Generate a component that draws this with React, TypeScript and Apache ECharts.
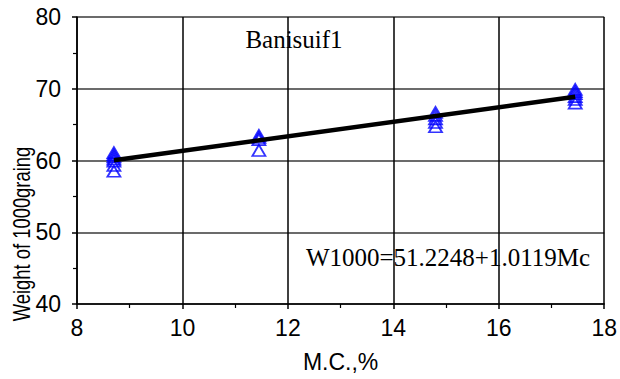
import React, { useEffect, useRef } from "react";
import * as echarts from "echarts";

// Moisture content (%) of each sample and the measured 1000-grain weight (g)
const moistureLevels = [8.7, 11.45, 14.8, 17.45];
const grainWeights: number[][] = [
  [61.1, 60.8, 60.5, 60.2, 59.9, 59.3, 58.5],
  [63.5, 63.2, 62.9, 61.4],
  [66.7, 66.3, 65.8, 65.3, 64.7],
  [69.9, 69.6, 69.3, 68.9, 68.5, 68.0],
];

// Fitted regression: W1000 = a + b * Mc
const intercept = 51.2248;
const slope = 1.0119;
const fitRange = [8.7, 17.45];

const xTicks = { min: 8, max: 18, interval: 2 };
const yTicks = { min: 40, max: 80, interval: 10 };

const varietyLabel = "Banisuif1";
const equationLabel = "W1000=51.2248+1.0119Mc";
const xAxisTitle = "M.C.,%";
const yAxisTitle = "Weight of 1000graing";

const SANS = "'Liberation Sans', Arial, sans-serif";
const SERIF = "'Liberation Serif', 'Times New Roman', serif";

export default function App() {
  const ref = useRef<HTMLDivElement>(null);

  useEffect(() => {
    if (!ref.current) return;
    const chart = echarts.init(ref.current, undefined, { renderer: "svg" });

    const points: number[][] = [];
    moistureLevels.forEach((mc, i) => {
      grainWeights[i].forEach((w) => points.push([mc, w]));
    });
    const fitLine = fitRange.map((mc) => [mc, intercept + slope * mc]);

    chart.setOption({
      animation: false,
      backgroundColor: "#fff",
      grid: { left: 77, right: 13, top: 17, bottom: 75 },
      xAxis: {
        type: "value",
        min: xTicks.min,
        max: xTicks.max,
        interval: xTicks.interval,
        name: xAxisTitle,
        nameLocation: "middle",
        nameGap: 46,
        nameTextStyle: { fontFamily: SANS, fontSize: 23, color: "#000" },
        axisLine: { lineStyle: { color: "#000", width: 1.5 } },
        axisTick: { show: true, inside: false, length: 5, lineStyle: { color: "#000", width: 1.5 } },
        minorTick: { show: true, splitNumber: 2, length: 4, lineStyle: { color: "#000", width: 1.2 } },
        splitLine: { show: true, lineStyle: { color: "#000", width: 1.5 } },
        axisLabel: { fontFamily: SANS, fontSize: 23, color: "#000", margin: 12 },
      },
      yAxis: {
        type: "value",
        min: yTicks.min,
        max: yTicks.max,
        interval: yTicks.interval,
        axisLine: { show: true, lineStyle: { color: "#000", width: 1.5 } },
        axisTick: { show: true, inside: false, length: 5, lineStyle: { color: "#000", width: 1.5 } },
        minorTick: { show: true, splitNumber: 2, length: 4, lineStyle: { color: "#000", width: 1.2 } },
        splitLine: { show: true, lineStyle: { color: "#3a3a3a", width: 1.5 } },
        axisLabel: { fontFamily: SANS, fontSize: 23, color: "#000", margin: 16 },
      },
      graphic: [
        {
          type: "text",
          x: 22,
          y: 234,
          rotation: Math.PI / 2,
          scaleX: 0.8,
          style: {
            text: yAxisTitle,
            font: `23px ${SANS}`,
            fill: "#000",
            align: "center",
            verticalAlign: "middle",
          },
        },
        {
          type: "group",
          z: 1,
          children: [
            { type: "rect", shape: { x: 236, y: 19, width: 122, height: 58 }, style: { fill: "#fff" } },
            {
              type: "text",
              x: 294,
              y: 39,
              style: {
                text: varietyLabel,
                font: `25px ${SERIF}`,
                fill: "#000",
                align: "center",
                verticalAlign: "middle",
              },
            },
            { type: "rect", shape: { x: 293, y: 235, width: 311, height: 42 }, style: { fill: "#fff" } },
            {
              type: "text",
              x: 448,
              y: 257,
              style: {
                text: equationLabel,
                font: `25px ${SERIF}`,
                fill: "#000",
                align: "center",
                verticalAlign: "middle",
              },
            },
          ],
        },
      ],
      series: [
        {
          type: "scatter",
          data: points,
          symbol: "triangle",
          symbolSize: [13, 11],
          z: 3,
          itemStyle: { color: "rgba(0,0,0,0)", borderColor: "#0000ff", borderWidth: 1.8 },
        },
        {
          type: "line",
          data: fitLine,
          showSymbol: false,
          z: 4,
          lineStyle: { color: "#000", width: 4.5 },
        },
      ],
    });

    return () => chart.dispose();
  }, []);

  return (
    <div
      ref={ref}
      style={{ position: "absolute", left: 0, top: 0, width: 620, height: 379 }}
    />
  );
}
